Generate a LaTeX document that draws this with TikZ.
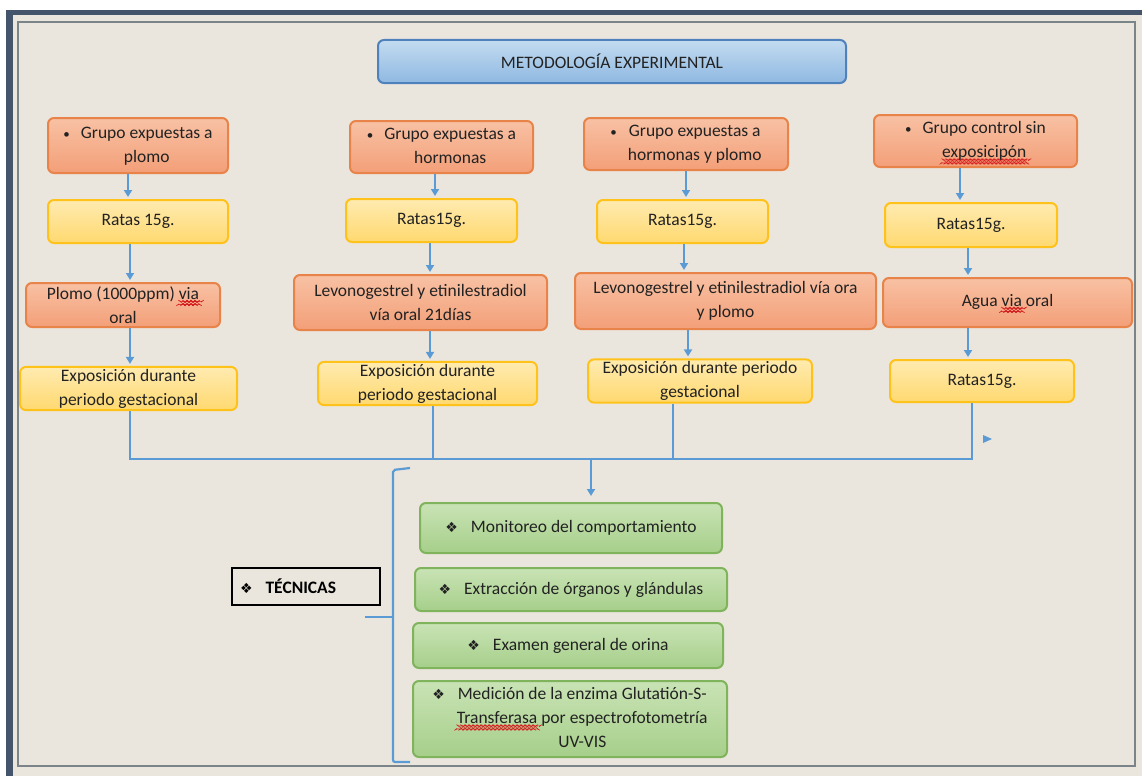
\documentclass[tikz,border=0pt]{standalone}
\usepackage{fontspec}
\setmainfont{Carlito}
\newfontfamily\symfont{DejaVu Sans}
\usetikzlibrary{arrows.meta}
\definecolor{bg}{HTML}{EBE6DD}
\definecolor{band}{HTML}{44546A}
\definecolor{frameline}{HTML}{7A8489}
\definecolor{txt}{HTML}{222222}
\definecolor{otop}{HTML}{F8C1A4}
\definecolor{obot}{HTML}{F39F78}
\definecolor{oborder}{HTML}{E8844A}
\definecolor{ytop}{HTML}{FFEBB0}
\definecolor{ybot}{HTML}{FFD970}
\definecolor{yborder}{HTML}{FFC21A}
\definecolor{gtop}{HTML}{C9E3B5}
\definecolor{gbot}{HTML}{A6CF8A}
\definecolor{gborder}{HTML}{80B45C}
\definecolor{btop}{HTML}{C3DBF0}
\definecolor{bbot}{HTML}{8FB9E2}
\definecolor{bborder}{HTML}{4F81BD}
\definecolor{conn}{HTML}{5B9BD5}
\definecolor{wavered}{HTML}{D42020}
\newlength\wavelen
\newdimen\wx
\newcount\wc
\newcommand\wavy[1]{\settowidth\wavelen{#1}%
  \rlap{\begin{pgfpicture}\pgfsetbaseline{0pt}%
    \pgfsetstrokecolor{wavered}\pgfsetlinewidth{0.5pt}%
    \wx=0pt \wc=0
    \pgfpathmoveto{\pgfpoint{0pt}{-4.4pt}}%
    \loop\ifdim\wx<\wavelen
      \advance\wx by 2pt \advance\wc by 1
      \ifodd\wc \pgfpathlineto{\pgfpoint{\wx}{-2.9pt}}\else\pgfpathlineto{\pgfpoint{\wx}{-4.4pt}}\fi
    \repeat
    \pgfusepath{stroke}%
  \end{pgfpicture}}#1}
\newcommand\dia{{\symfont\fontsize{14}{14}\selectfont ❖}}
\newcommand\bul{{\fontsize{13}{13}\selectfont\textbullet}\hspace{11pt}}
\tikzset{
  box/.style={rounded corners=6pt, line width=2pt, align=center, inner sep=2pt,
    text=txt, font=\fontsize{17.5}{24}\selectfont},
  obox/.style={box, draw=oborder, top color=otop, bottom color=obot},
  ybox/.style={box, draw=yborder, top color=ytop, bottom color=ybot},
  gbox/.style={box, draw=gborder, top color=gtop, bottom color=gbot},
  tbox/.style={box, draw=bborder, top color=btop, bottom color=bbot},
  conline/.style={draw=conn, line width=2.2pt},
  arr/.style={conline, -{Triangle[length=7pt,width=8pt]}, shorten >=2pt},
}
\begin{document}
\begin{tikzpicture}[x=1pt,y=-1pt]
% frame
\fill[white] (0,0) rectangle (1142,776);
\fill[band] (6,10) rectangle (1142,776);
\fill[bg] (12.5,15.5) rectangle (1142,776);
\draw[frameline, line width=1.8pt] (18,22) rectangle (1135,766);
\useasboundingbox (0,0) rectangle (1142,776);

% title
\node[tbox, minimum width=468, minimum height=43] (title) at (612,61.5) {METODOLOGÍA EXPERIMENTAL};

% row 1
\node[obox, minimum width=180, minimum height=55] (o1) at (138,145.5)
  {\bul\begin{tabular}[t]{@{}c@{}}Grupo expuestas a\\plomo\end{tabular}};
\node[obox, minimum width=183, minimum height=52] (o2) at (441.5,147)
  {\bul\begin{tabular}[t]{@{}c@{}}Grupo expuestas a\\hormonas\end{tabular}};
\node[obox, minimum width=204, minimum height=52] (o3) at (686,144)
  {\bul\begin{tabular}[t]{@{}c@{}}Grupo expuestas a\\hormonas y plomo\end{tabular}};
\node[obox, minimum width=203, minimum height=52] (o4) at (975.5,141)
  {\bul\begin{tabular}[t]{@{}c@{}}Grupo control sin\\\wavy{exposicipón}\end{tabular}};

% row 2
\node[ybox, minimum width=180, minimum height=43] (r1) at (138,221.5) {Ratas 15g.};
\node[ybox, minimum width=171, minimum height=43] (r2) at (431.5,220.5) {Ratas15g.};
\node[ybox, minimum width=171, minimum height=43] (r3) at (682.5,221.5) {Ratas15g.};
\node[ybox, minimum width=172, minimum height=44] (r4) at (971,225) {Ratas15g.};

% row 3
\node[obox, minimum width=194, minimum height=44] (p1) at (123,305) {Plomo (1000ppm) \wavy{via}\\oral};
\node[obox, minimum width=253, minimum height=55] (p2) at (420.5,302.5) {Levonogestrel y etinilestradiol\\vía oral 21días};
\node[obox, minimum width=301, minimum height=56] (p3) at (725.5,301) {Levonogestrel y etinilestradiol vía ora\\y plomo};
\node[obox, minimum width=249, minimum height=49] (p4) at (1007.5,302.5) {Agua \wavy{via} oral};

% row 4
\node[ybox, minimum width=217, minimum height=43] (e1) at (128.5,388.5) {Exposición durante\\periodo gestacional};
\node[ybox, minimum width=219, minimum height=43] (e2) at (427.5,383.5) {Exposición durante\\periodo gestacional};
\node[ybox, minimum width=224, minimum height=42] (e3) at (700,381) {Exposición durante periodo\\gestacional};
\node[ybox, minimum width=184, minimum height=42] (e4) at (982,381) {Ratas15g.};

% vertical arrows
\draw[arr] (o1.south -| 128,0) -- (r1.north -| 128,0);
\draw[arr] (r1.south -| 130,0) -- (p1.north -| 130,0);
\draw[arr] (p1.south -| 130,0) -- (e1.north -| 130,0);
\draw[arr] (o2.south -| 435,0) -- (r2.north -| 435,0);
\draw[arr] (r2.south -| 430,0) -- (p2.north -| 430,0);
\draw[arr] (p2.south -| 430,0) -- (e2.north -| 430,0);
\draw[arr] (o3.south -| 686,0) -- (r3.north -| 686,0);
\draw[arr] (r3.south -| 684,0) -- (p3.north -| 684,0);
\draw[arr] (p3.south -| 688,0) -- (e3.north -| 688,0);
\draw[arr] (o4.south -| 960,0) -- (r4.north -| 960,0);
\draw[arr] (r4.south -| 968,0) -- (p4.north -| 968,0);
\draw[arr] (p4.south -| 968,0) -- (e4.north -| 968,0);

% collector
\coordinate (j1) at (130,459);
\coordinate (j2) at (433,459);
\coordinate (j3) at (673,459);
\coordinate (j4) at (972,459);
\coordinate (jm) at (591,459);
\draw[conline] (e1.south -| j1) -- (j1) -- (j4) -- (e4.south -| j4);
\draw[conline] (e2.south -| j2) -- (j2);
\draw[conline] (e3.south -| j3) -- (j3);
\fill[conn] (983,435) -- (992,439) -- (983,443) -- cycle;

% techniques
\node[gbox, minimum width=302, minimum height=50] (g1) at (571,528)
  {\dia\hspace{13pt}Monitoreo del comportamiento};
\node[gbox, minimum width=312, minimum height=43] (g2) at (571,589.5)
  {\dia\hspace{13pt}Extracción de órganos y glándulas};
\node[gbox, minimum width=310, minimum height=45] (g3) at (568,645.5)
  {\dia\hspace{13pt}Examen general de orina};
\node[gbox, minimum width=314, minimum height=72] (g4) at (570,719)
  {\dia\hspace{12pt}\begin{tabular}[t]{@{}c@{}}Medición de la enzima Glutatión-S-\\\wavy{Transferasa} por espectrofotometría\\UV-VIS\end{tabular}};
\draw[arr, shorten >=6pt] (jm) -- (g1.north -| jm);

\node[draw=black, line width=2pt, minimum width=148, minimum height=37, text width=132,
  align=left, inner sep=0pt, text=black, font=\fontsize{17.5}{22}\selectfont\bfseries]
  (tec) at (306,586.5) {\dia\hspace{13pt}TÉCNICAS};

% brace
\coordinate (b1) at (410,468);
\coordinate (b2) at (393,470);
\coordinate (b3) at (393,762);
\coordinate (b4) at (410,762);
\coordinate (bm) at (393,617);
\coordinate (bt) at (365,617);
\draw[conline, rounded corners=2pt] (b1) -- (b2) -- (b3) -- (b4);
\draw[conline] (bm) -- (bt);
\end{tikzpicture}
\end{document}
